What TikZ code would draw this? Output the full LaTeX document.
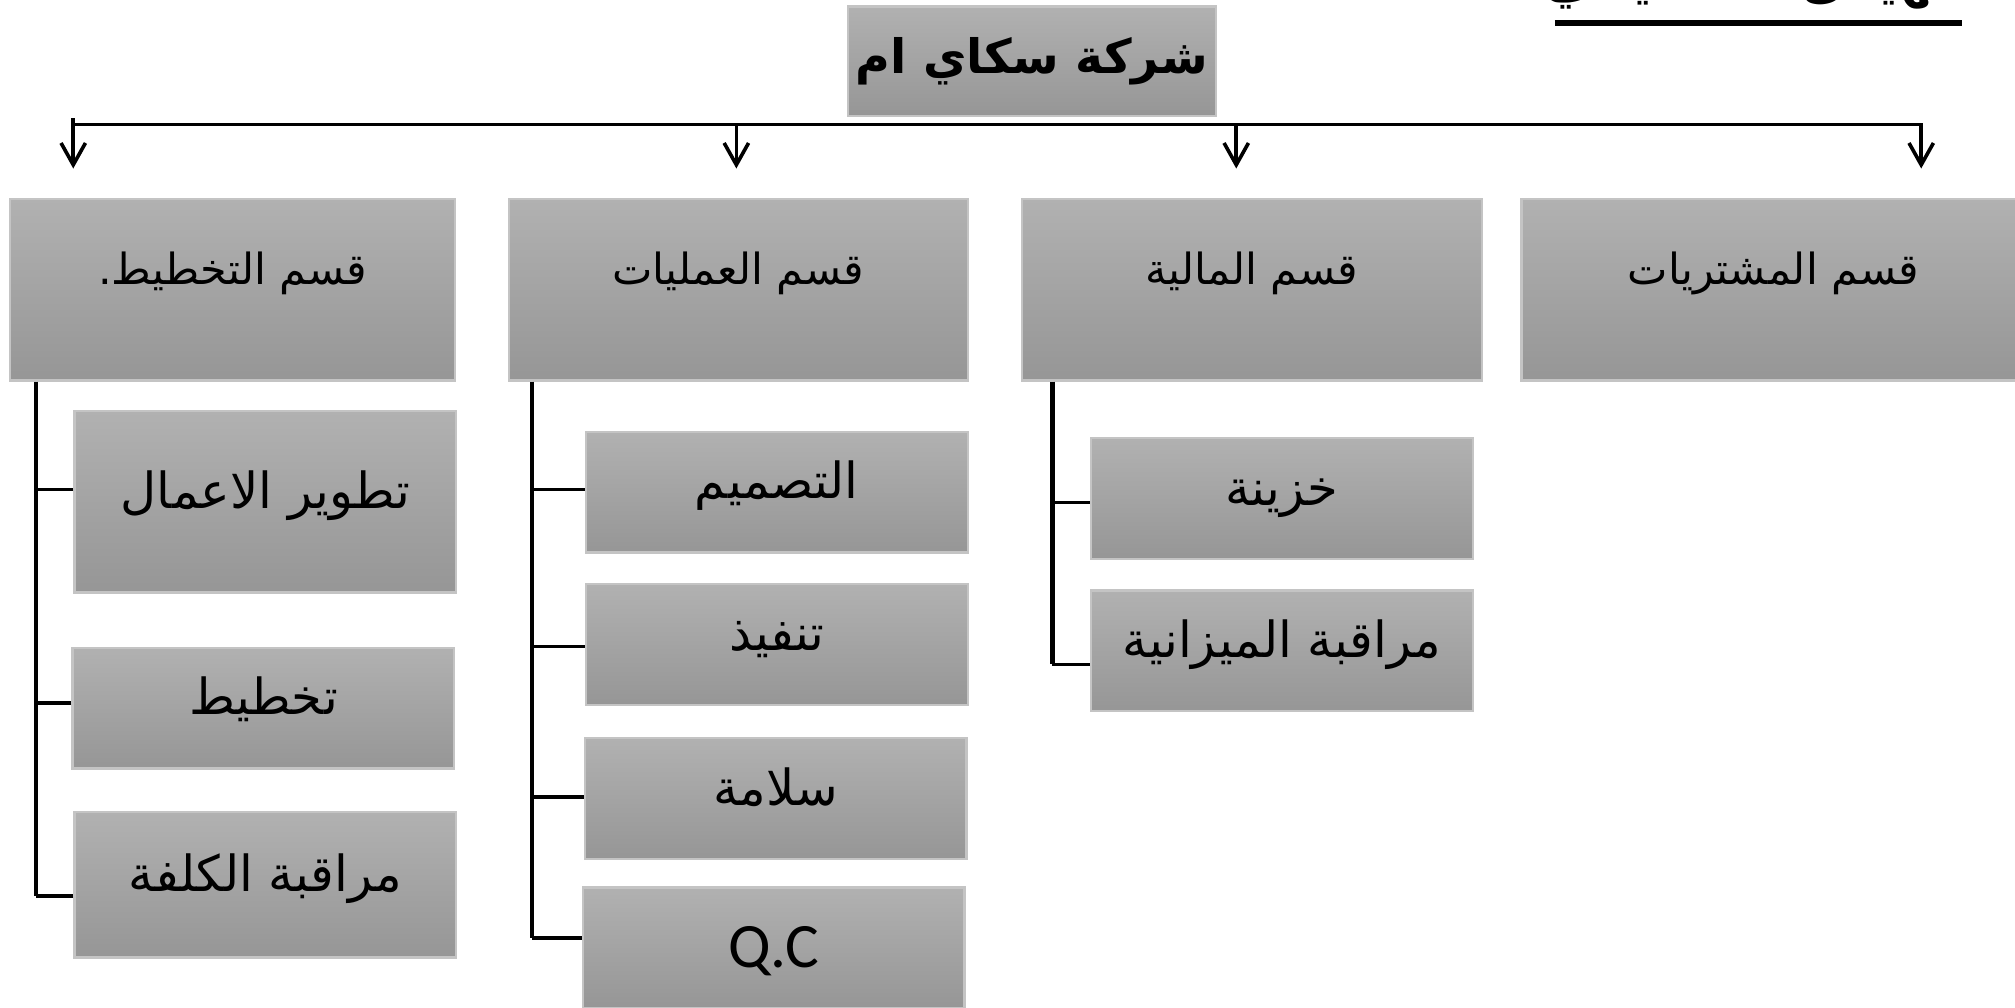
\documentclass[tikz,border=0pt]{standalone}
\usepackage{fontspec}
\usepackage{tikz}
\usetikzlibrary{arrows.meta,calc}
\TeXXeTstate=1
\newfontfamily\arabicfont[Script=Arabic]{DejaVu Sans}
\newfontfamily\qcfont{Carlito}
\definecolor{boxgrey}{RGB}{177,177,177}
\definecolor{boxgrey-dark}{RGB}{150,150,150}
\definecolor{boxrim}{RGB}{196,196,196}

\begin{document}
\begin{tikzpicture}[
    box/.style={draw=boxrim, line width=0.5pt, top color=boxgrey, bottom color=boxgrey-dark, inner sep=0pt},
    dept/.style={box, minimum height=1.41cm, font=\arabicfont\fontsize{9.5}{11}\selectfont, text height=0.3cm, text depth=0.38cm},
    unit/.style={box, minimum width=2.97cm, minimum height=0.94cm, font=\arabicfont\fontsize{11}{13}\selectfont, text height=0.3cm, text depth=0.2cm},
    conn/.style={black, line width=0.8pt},
    spine/.style={black, line width=1pt},
    arr/.style={conn, -{Straight Barb[length=1.7mm,width=1.9mm]}, shorten >=0.23cm},
]

    \useasboundingbox (0,0) rectangle (15.68,-7.84);
    \clip (0,0) rectangle (15.68,-7.84);

    % title, mostly cut off at the top edge
    \node[anchor=base, font=\arabicfont\bfseries\fontsize{11.5}{13}\selectfont] (title) at (13.68,0.03) {\beginR الهيكل التنظيمي\endR};
    \draw[line width=1.4pt] (12.10,-0.18) -- (15.27,-0.18);

    \node[box, minimum width=2.86cm, minimum height=0.85cm, font=\arabicfont\bfseries\fontsize{10.5}{12}\selectfont] (firm) at (8.03,-0.475) {\beginR شركة سكاي ام\endR};

    \node[dept, minimum width=3.46cm] (plan) at (1.81,-2.255) {\beginR قسم التخطيط.\endR};
    \node[dept, minimum width=3.57cm] (ops)  at (5.745,-2.255) {\beginR قسم العمليات\endR};
    \node[dept, minimum width=3.58cm] (fin)  at (9.74,-2.255) {\beginR قسم المالية\endR};
    \node[dept, minimum width=3.92cm] (buy)  at (13.80,-2.255) {\beginR قسم المشتريات\endR};

    \coordinate (busL) at (0.57,-0.97);
    \coordinate (tapB) at (5.73,-0.97);
    \coordinate (tapC) at (9.62,-0.97);
    \coordinate (busR) at (14.95,-0.97);

    \draw[arr] (busL) -- (busR) -- (busR |- buy.north);
    \draw[arr] ($(busL)+(0,0.05)$) -- (busL |- plan.north);
    \draw[arr] (tapB) -- (tapB |- ops.north);
    \draw[arr] (tapC) -- (tapC |- fin.north);

    \node[unit, minimum height=1.41cm] (dev)  at (2.065,-3.905) {\beginR تطوير الاعمال\endR};
    \node[unit]                        (plng) at (2.05,-5.51)   {\beginR تخطيط\endR};
    \node[unit, minimum height=1.13cm] (cost) at (2.065,-6.885) {\beginR مراقبة الكلفة\endR};

    \node[unit] (design) at (6.045,-3.83)  {\beginR التصميم\endR};
    \node[unit] (exec)   at (6.045,-5.015) {\beginR تنفيذ\endR};
    \node[unit] (safety) at (6.035,-6.215) {\beginR سلامة\endR};
    \node[unit, font=\qcfont\fontsize{14}{16}\selectfont, text depth=0cm] (qc) at (6.02,-7.375) {Q.C};

    \node[unit] (treas)  at (9.975,-3.88)  {\beginR خزينة\endR};
    \node[unit] (budget) at (9.975,-5.065) {\beginR مراقبة الميزانية\endR};

    \coordinate (sA) at (0.28,0);
    \coordinate (sB) at (4.14,0);
    \coordinate (sC) at (8.19,0);

    \draw[spine] (sA |- plan.south) -- ($(sA |- cost.west)+(0,-0.09)$);
    \draw[spine] (sB |- ops.south) -- ($(sB |- qc.west)+(0,0.075)$);
    \draw[spine] (sC |- fin.south) -- ($(sC |- budget.west)+(0,-0.105)$);

    \foreach \n/\d in {dev/0.095, plng/0.04, cost/-0.085}
        \draw[conn] ($(\n.west)+(0,\d)$) -- ($(sA |- \n.west)+(0,\d)$);
    \foreach \n/\d in {design/0.02, exec/-0.015, safety/0.015, qc/0.075}
        \draw[conn] ($(\n.west)+(0,\d)$) -- ($(sB |- \n.west)+(0,\d)$);
    \foreach \n/\d in {treas/-0.03, budget/-0.105}
        \draw[conn] ($(\n.west)+(0,\d)$) -- ($(sC |- \n.west)+(0,\d)$);

\end{tikzpicture}
\end{document}
